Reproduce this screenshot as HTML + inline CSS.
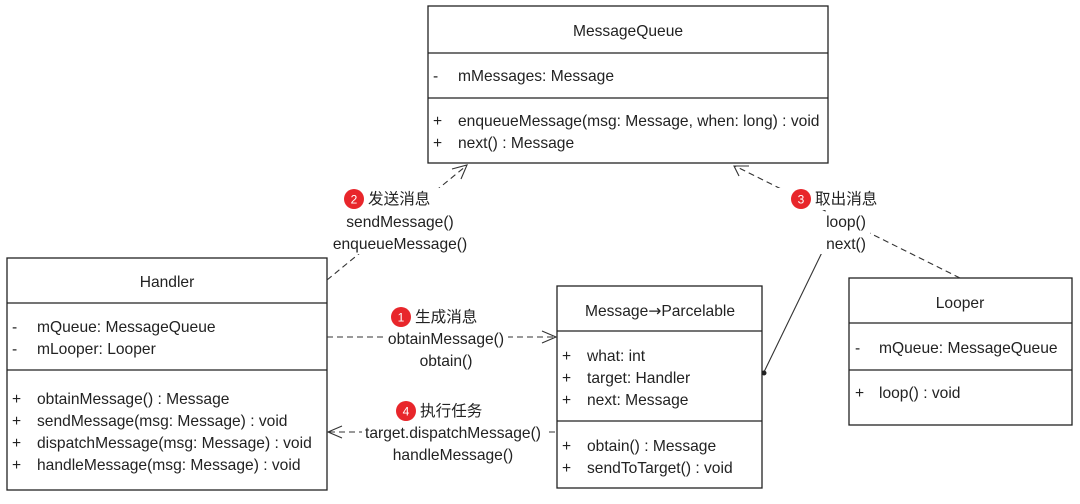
<!DOCTYPE html>
<html><head><meta charset="utf-8"><style>
body{margin:0;background:#fff;}
svg text{font-family:"Liberation Sans","Noto Sans CJK SC",sans-serif;font-size:15.6px;fill:#222;}
</style></head><body>
<svg width="1080" height="499" viewBox="0 0 1080 499" xmlns="http://www.w3.org/2000/svg">
<g fill="#fff" stroke="#222" stroke-width="1.3">
<rect x="428" y="6" width="400" height="157"/>
<line x1="428" y1="53" x2="828" y2="53"/><line x1="428" y1="98" x2="828" y2="98"/>
<rect x="7" y="258" width="320" height="232"/>
<line x1="7" y1="303" x2="327" y2="303"/><line x1="7" y1="370" x2="327" y2="370"/>
<rect x="557" y="286" width="205" height="202"/>
<line x1="557" y1="331" x2="762" y2="331"/><line x1="557" y1="421" x2="762" y2="421"/>
<rect x="849" y="278" width="223" height="147"/>
<line x1="849" y1="323" x2="1072" y2="323"/><line x1="849" y1="370" x2="1072" y2="370"/>
</g>
<g fill="none" stroke="#333" stroke-width="1.1" stroke-dasharray="6,4">
<line x1="327" y1="280" x2="466" y2="166"/>
<line x1="960" y1="278" x2="735" y2="166"/>
<line x1="327" y1="337" x2="555" y2="337"/>
<line x1="555" y1="432" x2="329" y2="432"/>
</g>
<g fill="none" stroke="#333" stroke-width="1.1">
<polyline points="452,169 467,165 461,179"/>
<polyline points="739,176 734,166 749,166"/>
<polyline points="542,331 556,337 542,343"/>
<polyline points="342,426 328,432 342,438"/>
<line x1="828" y1="240" x2="764" y2="372"/>
</g>
<circle cx="764" cy="373" r="2.5" fill="#222"/>
<g fill="#fff">
<rect x="333" y="188" width="135" height="66"/>
<rect x="776" y="188" width="104" height="22"/>
<rect x="820" y="212" width="50" height="42"/>
<rect x="386" y="306" width="122" height="66"/>
<rect x="362" y="400" width="184" height="66"/>
</g>
<g fill="#e8262b">
<circle cx="354" cy="199" r="10"/><circle cx="801" cy="199" r="10"/>
<circle cx="401" cy="317" r="10"/><circle cx="406" cy="411" r="10"/>
</g>
<g>
<text x="354" y="203.5" text-anchor="middle" style="fill:#fff;font-size:12px">2</text>
<text x="801" y="203.5" text-anchor="middle" style="fill:#fff;font-size:12px">3</text>
<text x="401" y="321.5" text-anchor="middle" style="fill:#fff;font-size:12px">1</text>
<text x="406" y="415.5" text-anchor="middle" style="fill:#fff;font-size:12px">4</text>
</g>
<g>
<text x="368" y="204">发送消息</text>
<text x="400" y="227" text-anchor="middle">sendMessage()</text>
<text x="400" y="249" text-anchor="middle">enqueueMessage()</text>
<text x="815" y="204">取出消息</text>
<text x="846" y="227" text-anchor="middle">loop()</text>
<text x="846" y="249" text-anchor="middle">next()</text>
<text x="415" y="322">生成消息</text>
<text x="446" y="344" text-anchor="middle">obtainMessage()</text>
<text x="446" y="366" text-anchor="middle">obtain()</text>
<text x="420" y="416">执行任务</text>
<text x="453" y="438" text-anchor="middle">target.dispatchMessage()</text>
<text x="453" y="460" text-anchor="middle">handleMessage()</text>

<text x="628" y="36" text-anchor="middle">MessageQueue</text>
<text x="433" y="81">-</text><text x="458" y="81">mMessages: Message</text>
<text x="433" y="126">+</text><text x="458" y="126">enqueueMessage(msg: Message, when: long) : void</text>
<text x="433" y="148">+</text><text x="458" y="148">next() : Message</text>

<text x="167" y="287" text-anchor="middle">Handler</text>
<text x="12" y="332">-</text><text x="37" y="332">mQueue: MessageQueue</text>
<text x="12" y="354">-</text><text x="37" y="354">mLooper: Looper</text>
<text x="12" y="404">+</text><text x="37" y="404">obtainMessage() : Message</text>
<text x="12" y="426">+</text><text x="37" y="426">sendMessage(msg: Message) : void</text>
<text x="12" y="448">+</text><text x="37" y="448">dispatchMessage(msg: Message) : void</text>
<text x="12" y="470">+</text><text x="37" y="470">handleMessage(msg: Message) : void</text>

<text x="660" y="316" text-anchor="middle">Message<tspan font-family="DejaVu Sans">→</tspan>Parcelable</text>
<text x="562" y="361">+</text><text x="587" y="361">what: int</text>
<text x="562" y="383">+</text><text x="587" y="383">target: Handler</text>
<text x="562" y="405">+</text><text x="587" y="405">next: Message</text>
<text x="562" y="451">+</text><text x="587" y="451">obtain() : Message</text>
<text x="562" y="473">+</text><text x="587" y="473">sendToTarget() : void</text>

<text x="960" y="308" text-anchor="middle">Looper</text>
<text x="855" y="353">-</text><text x="879" y="353">mQueue: MessageQueue</text>
<text x="855" y="398">+</text><text x="879" y="398">loop() : void</text>
</g>
</svg>
</body></html>
